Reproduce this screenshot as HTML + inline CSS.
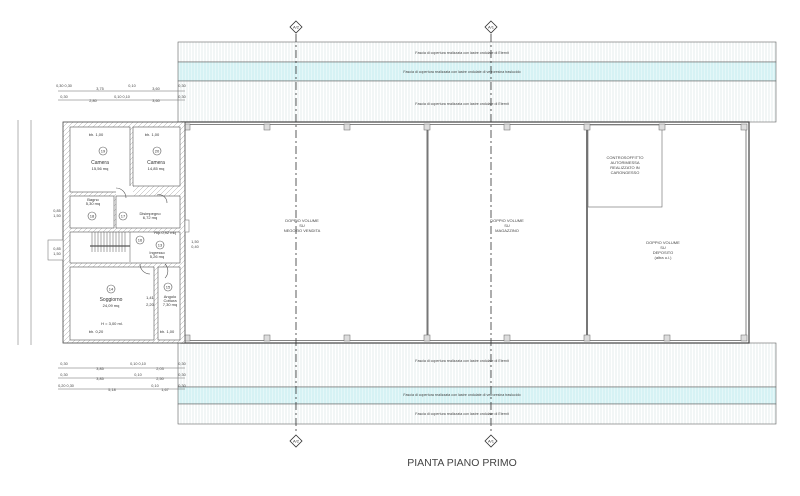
<!DOCTYPE html>
<html><head><meta charset="utf-8"><style>
html,body{margin:0;padding:0;background:#fff;}
svg{display:block;font-family:"Liberation Sans",sans-serif;}
</style></head><body>
<svg width="800" height="496" viewBox="0 0 800 496" xmlns="http://www.w3.org/2000/svg">
<defs>
<pattern id="vh" width="3" height="10" patternUnits="userSpaceOnUse"><rect width="3" height="10" fill="#fff"/><line x1="1" y1="0" x2="1" y2="10" stroke="#e6eeee" stroke-width="1"/></pattern>
<pattern id="vc" width="3" height="10" patternUnits="userSpaceOnUse"><rect width="3" height="10" fill="#e4f7f8"/><line x1="1" y1="0" x2="1" y2="10" stroke="#c8eef0" stroke-width="1"/></pattern>
<pattern id="hatch" width="5" height="5" patternUnits="userSpaceOnUse"><rect width="5" height="5" fill="#fff"/><path d="M0 5L5 0" stroke="#aaa" stroke-width="0.5"/></pattern>
</defs>
<rect x="178" y="42" width="598" height="20" fill="url(#vh)" stroke="#666" stroke-width="0.6"/>
<rect x="178" y="62" width="598" height="19" fill="url(#vc)" stroke="#666" stroke-width="0.6"/>
<rect x="178" y="81" width="598" height="41" fill="url(#vh)" stroke="#666" stroke-width="0.6"/>
<rect x="178" y="343" width="598" height="44" fill="url(#vh)" stroke="#666" stroke-width="0.6"/>
<rect x="178" y="387" width="598" height="17" fill="url(#vc)" stroke="#666" stroke-width="0.6"/>
<rect x="178" y="404" width="598" height="20" fill="url(#vh)" stroke="#666" stroke-width="0.6"/>
<g font-size="3.6" fill="#444" text-anchor="middle">
<text x="462" y="54">Fascia di copertura realizzata con lastre ondulate di Eternit</text>
<text x="462" y="73">Fascia di copertura realizzata con lastre ondulate di vetroresina traslucido</text>
<text x="462" y="105">Fascia di copertura realizzata con lastre ondulate di Eternit</text>
<text x="462" y="362">Fascia di copertura realizzata con lastre ondulate di Eternit</text>
<text x="462" y="396">Fascia di copertura realizzata con lastre ondulate di vetroresina traslucido</text>
<text x="462" y="415">Fascia di copertura realizzata con lastre ondulate di Eternit</text>
</g>
<rect x="181" y="122" width="568" height="221" fill="#fff" stroke="#444" stroke-width="1.2"/>
<rect x="184" y="124.5" width="562" height="216" fill="none" stroke="#666" stroke-width="0.8"/>
<line x1="427.5" y1="124" x2="427.5" y2="341" stroke="#777" stroke-width="2"/>
<line x1="587" y1="124" x2="587" y2="341" stroke="#777" stroke-width="2"/>
<rect x="588" y="125" width="74" height="82" fill="none" stroke="#666" stroke-width="0.6"/>
<g fill="#ddd" stroke="#666" stroke-width="0.5">
<rect x="184" y="124" width="6" height="6"/><rect x="264" y="124" width="6" height="6"/><rect x="344" y="124" width="6" height="6"/><rect x="424" y="124" width="6" height="6"/><rect x="504" y="124" width="6" height="6"/><rect x="584" y="124" width="6" height="6"/><rect x="659" y="124" width="6" height="6"/><rect x="741" y="124" width="6" height="6"/>
<rect x="184" y="335" width="6" height="6"/><rect x="264" y="335" width="6" height="6"/><rect x="344" y="335" width="6" height="6"/><rect x="424" y="335" width="6" height="6"/><rect x="504" y="335" width="6" height="6"/><rect x="584" y="335" width="6" height="6"/><rect x="664" y="335" width="6" height="6"/><rect x="741" y="335" width="6" height="6"/>
</g>
<g font-size="4" fill="#444" text-anchor="middle">
<text x="302" y="222">DOPPIO VOLUME</text><text x="302" y="227">SU</text><text x="302" y="232">NEGOZIO VENDITA</text>
<text x="507" y="222">DOPPIO VOLUME</text><text x="507" y="227">SU</text><text x="507" y="232">MAGAZZINO</text>
<text x="663" y="244">DOPPIO VOLUME</text><text x="663" y="249">SU</text><text x="663" y="254">DEPOSITO</text><text x="663" y="259">(altra u.i.)</text>
<text x="625" y="159">CONTROSOFFITTO</text><text x="625" y="164">AUTORIMESSA</text><text x="625" y="169">REALIZZATO IN</text><text x="625" y="174">CARONGESSO</text>
</g>
<g stroke="#333" stroke-width="0.8" stroke-dasharray="8,3,2,3">
<line x1="296" y1="34" x2="296" y2="432"/><line x1="491" y1="34" x2="491" y2="432"/>
</g>
<g fill="#fff" stroke="#333" stroke-width="0.8">
<path d="M296 21L302 27L296 33L290 27Z"/><path d="M491 21L497 27L491 33L485 27Z"/>
<path d="M296 435L302 441L296 447L290 441Z"/><path d="M491 435L497 441L491 447L485 441Z"/>
</g>
<g font-size="4" fill="#333" text-anchor="middle">
<text x="296" y="28.5">A/2</text><text x="491" y="28.5">A/1</text><text x="296" y="442.5">A/2</text><text x="491" y="442.5">A/1</text>
</g>
<text x="462" y="466" font-size="10.5" fill="#444" text-anchor="middle">PIANTA PIANO PRIMO</text>
<rect x="63" y="122" width="122" height="221" fill="url(#hatch)" stroke="#444" stroke-width="0.8"/>
<g fill="#fff" stroke="#555" stroke-width="0.6">
<rect x="70" y="127" width="60" height="65"/>
<rect x="133" y="127" width="47" height="59"/>
<rect x="70" y="196" width="44" height="32"/>
<path d="M116 186 L133 186 L133 196 L116 196Z" stroke="none"/>
<rect x="116" y="196" width="64" height="32"/>
<rect x="70" y="232" width="110" height="31"/>
<rect x="70" y="267" width="84" height="73"/>
<rect x="158" y="267" width="22" height="73"/>
</g>
<g stroke="#555" stroke-width="0.5">
<line x1="92" y1="232" x2="92" y2="252"/><line x1="95" y1="232" x2="95" y2="252"/><line x1="98" y1="232" x2="98" y2="252"/><line x1="101" y1="232" x2="101" y2="252"/><line x1="104" y1="232" x2="104" y2="252"/><line x1="107" y1="232" x2="107" y2="252"/><line x1="110" y1="232" x2="110" y2="252"/><line x1="113" y1="232" x2="113" y2="252"/><line x1="116" y1="232" x2="116" y2="252"/><line x1="119" y1="232" x2="119" y2="252"/><line x1="122" y1="232" x2="122" y2="252"/><line x1="125" y1="232" x2="125" y2="252"/>
<line x1="90" y1="246" x2="130" y2="246" stroke-width="1.2"/>
<line x1="130" y1="232" x2="130" y2="262"/>
</g>
<rect x="48" y="240" width="15" height="20" fill="#fff" stroke="#666" stroke-width="0.5"/>
<rect x="185" y="220" width="4" height="12" fill="#fff" stroke="#666" stroke-width="0.5"/>
<g fill="none" stroke="#555" stroke-width="0.6">
<circle cx="103" cy="151" r="4"/><circle cx="157" cy="151" r="4"/><circle cx="92" cy="216" r="4"/><circle cx="123" cy="216" r="4"/><circle cx="140" cy="240" r="4"/><circle cx="160" cy="245" r="4"/><circle cx="111" cy="289" r="4"/><circle cx="168" cy="287" r="4"/>
<path d="M116 188 A10 10 0 0 1 126 198"/><path d="M157 195 A8 8 0 0 1 167 203"/><path d="M140 264 A10 10 0 0 0 150 274"/><path d="M165 264 A10 10 0 0 1 165 278"/>
</g>
<g font-size="4" fill="#333" text-anchor="middle">
<text x="103" y="152.5">19</text><text x="157" y="152.5">20</text><text x="92" y="217.5">18</text><text x="123" y="217.5">17</text><text x="140" y="241.5">16</text><text x="160" y="246.5">13</text><text x="111" y="290.5">14</text><text x="168" y="288.5">15</text>
<text x="100" y="164" font-size="5">Camera</text><text x="100" y="170">15,56 mq</text>
<text x="156" y="164" font-size="5">Camera</text><text x="156" y="170">14,85 mq</text>
<text x="93" y="201">Bagno</text><text x="93" y="205">5,30 mq</text>
<text x="150" y="215">Disimpegno</text><text x="150" y="219">6,72 mq</text>
<text x="165" y="234">Rip.0,92 mq</text>
<text x="157" y="254">Ingresso</text><text x="157" y="258">5,26 mq</text>
<text x="111" y="301" font-size="5">Soggiorno</text><text x="111" y="307">24,09 mq</text>
<text x="112" y="325">H = 3,00 ml.</text>
<text x="170" y="298">Angolo</text><text x="170" y="302">Cottura</text><text x="170" y="306">7,30 mq</text>
<text x="96" y="136">bh. 1,00</text><text x="152" y="136">bh. 1,00</text>
<text x="96" y="333">bh. 0,20</text><text x="167" y="333">bh. 1,00</text>
<text x="150" y="299">1,41</text><text x="150" y="306">2,20</text>
</g>
<g stroke="#666" stroke-width="0.5">
<line x1="58" y1="91" x2="185" y2="91"/><line x1="58" y1="100" x2="185" y2="100"/>
<line x1="58" y1="368" x2="185" y2="368"/><line x1="58" y1="378" x2="185" y2="378"/><line x1="58" y1="389" x2="185" y2="389"/>
<line x1="18" y1="120" x2="18" y2="345"/><line x1="31" y1="120" x2="31" y2="345"/>
</g>
<g font-size="3.8" fill="#444" text-anchor="middle">
<text x="64" y="87">0,30 0,30</text><text x="100" y="90">3,75</text><text x="132" y="87">0,10</text><text x="156" y="90">3,60</text><text x="182" y="87">0,30</text>
<text x="64" y="98">0,30</text><text x="93" y="102">2,80</text><text x="122" y="98">0,10 0,10</text><text x="156" y="102">3,60</text><text x="182" y="98">0,30</text>
<text x="64" y="365">0,30</text><text x="100" y="370">3,85</text><text x="138" y="365">0,10 0,10</text><text x="160" y="370">2,03</text><text x="182" y="365">0,30</text>
<text x="64" y="376">0,30</text><text x="100" y="380">3,85</text><text x="138" y="376">0,10</text><text x="160" y="380">2,50</text><text x="182" y="376">0,30</text>
<text x="66" y="387">0,20 0,30</text><text x="112" y="391">5,18</text><text x="155" y="387">0,10</text><text x="165" y="391">1,67</text><text x="182" y="387">0,30</text>
<text x="57" y="212">0,85</text><text x="57" y="217">1,50</text><text x="57" y="250">0,85</text><text x="57" y="255">1,50</text><text x="195" y="243">1,50</text><text x="195" y="248">0,40</text>
</g>
</svg>
</body></html>
